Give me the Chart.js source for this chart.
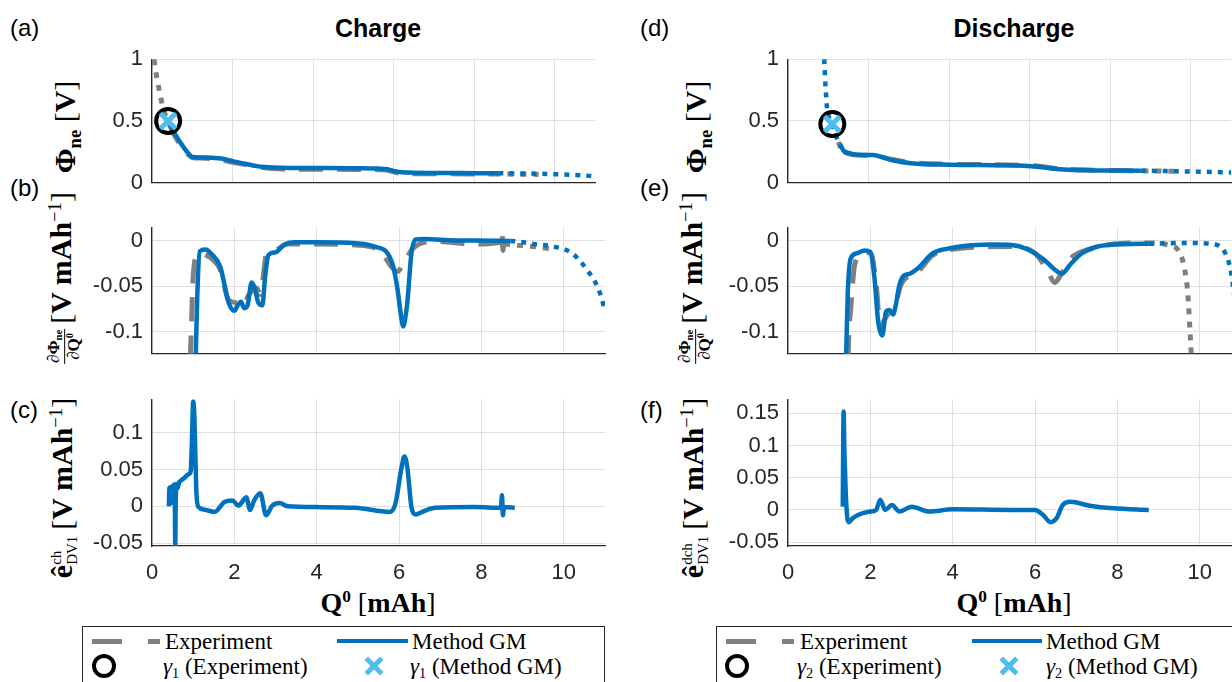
<!DOCTYPE html>
<html>
<head>
<meta charset="utf-8">
<script src="https://cdn.jsdelivr.net/npm/chart.js@4.4.1/dist/chart.umd.min.js"></script>
<style>
    html, body { margin:0; padding:0; background:#fff; }
    body { width:1232px; height:682px; overflow:hidden; position:relative; font-family:"Liberation Sans", Arial, sans-serif; color:#000; }
    canvas { position:absolute; }
    .t { position:absolute; white-space:nowrap; line-height:1; }
    .title { font-weight:bold; font-size:25px; transform:translate(-50%,-50%); }
    .panel { font-size:24px; transform:translate(0,-50%); }
    .serif { font-family:"Liberation Serif", "DejaVu Serif", serif; }
    .ylab { font-size:30px; transform:translate(-50%,-50%) rotate(-90deg); }
    .xlab { font-size:28px; transform:translate(-50%,-50%); }
    sub, sup { font-size:62%; line-height:0; position:relative; vertical-align:baseline; }
    sup { top:-0.55em; }
    sub { top:0.3em; }
    .frac { display:inline-block; vertical-align:middle; text-align:center; font-size:17px; line-height:1.05; margin-right:5px; }
    .frac span { display:block; }
    .frac .fn { border-bottom:1px solid #000; padding:0 1px 1px; }
    .stk { display:inline-block; vertical-align:middle; font-size:50%; line-height:1.05; text-align:left; margin-right:6px; }
    .stk span { display:block; }
    .lgbox { position:absolute; border:1.3px solid #262626; background:#fff; }
    .lgtxt { font-size:23px; transform:translate(0,-50%); }
    .bar { position:absolute; }
    .circ { position:absolute; width:16px; height:16px; border:4px solid #000; border-radius:50%; }
    .x1, .x2 { position:absolute; width:22px; height:5px; background:#4DBEEE; }
    .x1 { transform:translate(-50%,-50%) rotate(45deg); }
    .x2 { transform:translate(-50%,-50%) rotate(-45deg); }
</style>
</head>
<body>

<!-- titles and panel letters -->
<div class="t title" style="left:378px; top:28px;">Charge</div>
<div class="t title" style="left:1014px; top:28px;">Discharge</div>
<div class="t panel" style="left:10px; top:28px;">(a)</div>
<div class="t panel" style="left:10px; top:188px;">(b)</div>
<div class="t panel" style="left:10px; top:410px;">(c)</div>
<div class="t panel" style="left:640px; top:28px;">(d)</div>
<div class="t panel" style="left:640px; top:188px;">(e)</div>
<div class="t panel" style="left:640px; top:410px;">(f)</div>

<!-- y labels -->
<div class="t serif ylab" style="left:65px; top:127px;"><b>Φ</b><sub><b>ne</b></sub> [<b>V</b>]</div>
<div class="t serif ylab" style="left:64px; top:278px;"><span class="frac"><span class="fn">∂<b>Φ</b><sub><b>ne</b></sub></span><span>∂<b>Q</b><sup><b>0</b></sup></span></span>[<b>V mAh</b><sup>−1</sup>]</div>
<div class="t serif ylab" style="left:64px; top:488px;"><b>ê</b><span class="stk"><span>ch</span><span>DV1</span></span>[<b>V mAh</b><sup>−1</sup>]</div>
<div class="t serif ylab" style="left:696px; top:127px;"><b>Φ</b><sub><b>ne</b></sub> [<b>V</b>]</div>
<div class="t serif ylab" style="left:695px; top:278px;"><span class="frac"><span class="fn">∂<b>Φ</b><sub><b>ne</b></sub></span><span>∂<b>Q</b><sup><b>0</b></sup></span></span>[<b>V mAh</b><sup>−1</sup>]</div>
<div class="t serif ylab" style="left:695px; top:488px;"><b>ê</b><span class="stk"><span>dch</span><span>DV1</span></span>[<b>V mAh</b><sup>−1</sup>]</div>

<!-- x labels -->
<div class="t serif xlab" style="left:378px; top:603px;"><b>Q</b><sup><b>0</b></sup> [<b>mAh</b>]</div>
<div class="t serif xlab" style="left:1014px; top:603px;"><b>Q</b><sup><b>0</b></sup> [<b>mAh</b>]</div>

<!-- legends -->
<div class="lgbox" style="left:82px; top:626px; width:521px; height:80px;"></div>
<div class="bar" style="left:92px; top:639px; width:30px; height:5px; background:#808080;"></div>
<div class="bar" style="left:148px; top:639px; width:12px; height:5px; background:#808080;"></div>
<div class="t serif lgtxt" style="left:165px; top:641px;">Experiment</div>
<div class="bar" style="left:337px; top:639px; width:71px; height:4px; background:#0072BD;"></div>
<div class="t serif lgtxt" style="left:412px; top:641px;">Method GM</div>
<div class="circ" style="left:92px; top:654px;"></div>
<div class="t serif lgtxt" style="left:163px; top:666px;"><i>γ</i><sub>1</sub> (Experiment)</div>
<div class="x1" style="left:374px; top:666px;"></div><div class="x2" style="left:374px; top:666px;"></div>
<div class="t serif lgtxt" style="left:410px; top:666px;"><i>γ</i><sub>1</sub> (Method GM)</div>

<div class="lgbox" style="left:716px; top:626px; width:540px; height:80px;"></div>
<div class="bar" style="left:726px; top:639px; width:30px; height:5px; background:#808080;"></div>
<div class="bar" style="left:782px; top:639px; width:12px; height:5px; background:#808080;"></div>
<div class="t serif lgtxt" style="left:800px; top:641px;">Experiment</div>
<div class="bar" style="left:972px; top:639px; width:70px; height:4px; background:#0072BD;"></div>
<div class="t serif lgtxt" style="left:1046px; top:641px;">Method GM</div>
<div class="circ" style="left:725px; top:654px;"></div>
<div class="t serif lgtxt" style="left:797px; top:666px;"><i>γ</i><sub>2</sub> (Experiment)</div>
<div class="x1" style="left:1009px; top:666px;"></div><div class="x2" style="left:1009px; top:666px;"></div>
<div class="t serif lgtxt" style="left:1046px; top:666px;"><i>γ</i><sub>2</sub> (Method GM)</div>

<script>
// ---- data ----
const qTicks = [0, 2, 4, 6, 8, 10];
const phiTicks = [0, 0.5, 1];
const dvaTicks = [-0.1, -0.05, 0];
const chErrTicks = [-0.05, 0, 0.05, 0.1];
const dchErrTicks = [-0.05, 0, 0.05, 0.1, 0.15];

// gamma points: [charge, discharge]
const gammaQ = [0.4, 1.1];
const gammaPhi = [0.5, 0.475];

// (a) charge potential
const chPhiExpQ = [0.05, 0.08, 0.12, 0.18, 0.25, 0.32, 0.4, 0.5, 0.6, 0.7, 0.8, 0.9, 1.0, 1.2, 1.5, 1.8, 2.0, 2.3, 2.6, 3.0, 3.5, 4.0, 5.0, 5.8, 6.0, 6.2, 7.0, 8.0, 8.5, 9.0, 9.6];
const chPhiExpV = [1.0, 0.93, 0.85, 0.75, 0.64, 0.56, 0.5, 0.42, 0.36, 0.31, 0.27, 0.23, 0.205, 0.2, 0.195, 0.183, 0.165, 0.15, 0.13, 0.115, 0.11, 0.11, 0.108, 0.104, 0.088, 0.076, 0.073, 0.072, 0.072, 0.07, 0.068];
const chPhiSimQ = [0.45, 0.6, 0.8, 0.95, 1.0, 1.2, 1.5, 1.75, 2.0, 2.3, 2.6, 2.8, 3.2, 4.0, 5.0, 5.6, 5.85, 6.0, 6.2, 6.5, 7.0, 8.0, 8.6, 9.0, 9.5, 10.0, 10.5, 10.8, 11.0];
const chPhiSimV = [0.47, 0.38, 0.28, 0.22, 0.21, 0.205, 0.202, 0.195, 0.175, 0.155, 0.135, 0.128, 0.122, 0.12, 0.118, 0.115, 0.11, 0.095, 0.085, 0.082, 0.08, 0.078, 0.077, 0.076, 0.074, 0.07, 0.064, 0.058, 0.052];

// (b) charge differential voltage
const chDvaExpQ = [0.93, 0.96, 0.99, 1.03, 1.08, 1.18, 1.27, 1.45, 1.66, 1.86, 2.05, 2.24, 2.34, 2.44, 2.54, 2.63, 2.7, 2.77, 2.9, 3.0, 3.3, 3.96, 4.95, 5.53, 5.82, 5.96, 6.1, 6.35, 6.9, 7.8, 8.45, 8.5, 8.52, 8.55, 8.8, 9.3, 9.8];
const chDvaExpV = [-0.13, -0.09, -0.047, -0.025, -0.017, -0.014, -0.015, -0.02, -0.032, -0.065, -0.068, -0.071, -0.06, -0.055, -0.052, -0.059, -0.04, -0.017, -0.013, -0.011, -0.004, -0.004, -0.005, -0.011, -0.029, -0.034, -0.026, -0.008, -0.001, -0.004, -0.002, 0.01, -0.011, -0.004, -0.005, -0.007, -0.01];
const chDvaSimQ = [1.06, 1.1, 1.16, 1.3, 1.45, 1.66, 1.86, 2.0, 2.08, 2.16, 2.24, 2.32, 2.42, 2.5, 2.58, 2.68, 2.75, 2.83, 3.0, 3.2, 3.45, 3.96, 4.95, 5.43, 5.72, 5.86, 5.96, 6.05, 6.1, 6.15, 6.2, 6.3, 6.4, 6.6, 7.37, 8.7, 9.3, 9.78, 10.2, 10.56, 10.84, 11.0];
const chDvaSimV = [-0.13, -0.06, -0.012, -0.01, -0.015, -0.029, -0.068, -0.077, -0.071, -0.067, -0.074, -0.071, -0.046, -0.053, -0.068, -0.071, -0.038, -0.016, -0.013, -0.005, -0.002, -0.002, -0.003, -0.007, -0.014, -0.029, -0.053, -0.083, -0.094, -0.085, -0.068, -0.014, 0.001, 0.0015, 0, -0.0006, -0.004, -0.007, -0.014, -0.032, -0.053, -0.076];

// (c) charge error
const chErrQ = [0.41, 0.42, 0.45, 0.48, 0.5, 0.53, 0.55, 0.565, 0.575, 0.6, 0.62, 0.66, 0.7, 0.79, 0.89, 0.94, 0.97, 1.0, 1.03, 1.08, 1.13, 1.28, 1.52, 1.76, 1.95, 2.1, 2.16, 2.29, 2.38, 2.48, 2.63, 2.77, 2.92, 3.1, 3.3, 3.98, 4.95, 5.77, 5.91, 6.06, 6.13, 6.2, 6.3, 6.4, 6.59, 6.88, 7.85, 8.47, 8.5, 8.52, 8.55, 8.81];
const chErrV = [0, 0.025, 0.026, 0.005, 0.028, 0.01, 0.03, -0.054, 0.0, 0.03, 0.025, 0.033, 0.035, 0.039, 0.044, 0.048, 0.09, 0.143, 0.12, 0.017, -0.001, -0.0045, -0.0076, 0.006, 0.008, 0.001, 0.004, 0.0125, -0.005, 0.008, 0.018, -0.012, 0.001, 0.0045, 0, -0.001, -0.002, -0.0076, 0.0036, 0.053, 0.068, 0.053, -0.001, -0.011, -0.0067, -0.002, -0.001, -0.002, 0.015, -0.012, -0.001, -0.002];

// (d) discharge potential
const dchPhiExpQ = [1.25, 1.3, 1.4, 1.52, 1.71, 2.1, 2.24, 2.57, 3.05, 4.0, 5.43, 6.19, 6.76, 7.33, 8.0, 8.8, 9.3, 9.7];
const dchPhiExpV = [0.33, 0.29, 0.25, 0.235, 0.225, 0.222, 0.214, 0.19, 0.163, 0.15, 0.145, 0.135, 0.112, 0.105, 0.1, 0.097, 0.095, 0.092];
const dchPhiSimQ = [0.9, 0.93, 0.97, 1.0, 1.05, 1.1, 1.19, 1.29, 1.38, 1.52, 1.71, 2.1, 2.24, 2.57, 3.05, 4.0, 5.43, 6.19, 6.76, 7.33, 8.76, 9.5, 10.2, 10.76, 11.0];
const dchPhiSimV = [1.0, 0.79, 0.6, 0.55, 0.5, 0.467, 0.38, 0.315, 0.26, 0.24, 0.228, 0.224, 0.217, 0.185, 0.159, 0.146, 0.141, 0.13, 0.109, 0.102, 0.098, 0.094, 0.09, 0.086, 0.084];

// (e) discharge differential voltage
const dchDvaExpQ = [1.46, 1.48, 1.52, 1.62, 1.81, 2.0, 2.14, 2.24, 2.3, 2.48, 2.6, 2.76, 3.14, 3.52, 4.0, 5.43, 6.0, 6.29, 6.48, 6.62, 6.86, 7.33, 8.0, 8.76, 9.24, 9.48, 9.62, 9.71, 9.76, 9.8];
const dchDvaExpV = [-0.13, -0.1, -0.077, -0.026, -0.014, -0.0135, -0.047, -0.095, -0.09, -0.077, -0.07, -0.047, -0.035, -0.016, -0.0096, -0.0066, -0.014, -0.032, -0.046, -0.038, -0.02, -0.0096, -0.0036, -0.0027, -0.005, -0.011, -0.029, -0.059, -0.098, -0.13];
const dchDvaSimQ = [1.41, 1.45, 1.52, 1.67, 1.86, 2.0, 2.1, 2.19, 2.29, 2.38, 2.46, 2.55, 2.62, 2.7, 2.8, 2.95, 3.14, 3.52, 4.0, 4.95, 5.43, 5.81, 6.19, 6.48, 6.65, 6.86, 7.14, 7.52, 8.29, 8.76, 9.71, 10.38, 10.62, 10.76, 10.84, 10.92, 11.0];
const dchDvaSimV = [-0.13, -0.059, -0.02, -0.014, -0.011, -0.0126, -0.041, -0.089, -0.104, -0.078, -0.076, -0.081, -0.07, -0.05, -0.039, -0.0365, -0.031, -0.014, -0.008, -0.0045, -0.005, -0.0096, -0.02, -0.032, -0.0365, -0.026, -0.014, -0.0066, -0.004, -0.0036, -0.0027, -0.0045, -0.014, -0.035, -0.062, -0.09, -0.12];

// (f) discharge error
const dchErrQ = [1.33, 1.34, 1.35, 1.37, 1.4, 1.44, 1.48, 1.57, 1.71, 2.0, 2.14, 2.24, 2.36, 2.52, 2.71, 3.0, 3.43, 4.0, 5.43, 6.0, 6.19, 6.38, 6.52, 6.67, 6.86, 7.33, 7.9, 8.76];
const dchErrV = [0.005, 0.1, 0.153, 0.09, 0.03, -0.012, -0.019, -0.013, -0.0075, -0.0025, 0, 0.016, 0, 0.0075, -0.0025, 0.005, -0.0025, 0.001, 0, 0, -0.0075, -0.019, -0.013, 0.0075, 0.0126, 0.0065, 0.0025, 0];

// ---- style ----
const BLUE = '#0072BD', GRAY = '#808080', CYAN = '#4DBEEE';
const GRID = '#dfdfdf', AXIS = '#262626';
const DOT_B = [5, 6], DOT_G = [6, 7], DASH_G = [24, 14];
const TICK_FONT = { family: '"Liberation Sans", Arial, sans-serif', size: 22 };

// plot-area geometry (px)
const PW = 453, YW = 95, PR = 6, PT = 14;

function pts(xs, ys) {
    return xs.map((x, i) => ({ x: x, y: ys[i] }));
}

// one curve; style "inside" between lo and hi, "outside" elsewhere
function curve(xs, ys, color, width, lo, hi, inside, outside) {
    return {
        data: pts(xs, ys),
        borderColor: color,
        borderWidth: width,
        pointRadius: 0,
        showLine: true,
        fill: false,
        cubicInterpolationMode: 'monotone',
        borderCapStyle: 'butt',
        borderJoinStyle: 'round',
        segment: {
            borderDash: c => (c.p0.parsed.x >= lo - 1e-9 && c.p1.parsed.x <= hi + 1e-9) ? inside : outside
        }
    };
}

function markers(q, v) {
    return [
        { data: [{ x: q, y: v }], showLine: false, pointStyle: 'crossRot', pointRadius: 11,
          borderColor: CYAN, borderWidth: 5, backgroundColor: 'transparent' },
        { data: [{ x: q, y: v }], showLine: false, pointStyle: 'circle', pointRadius: 12,
          borderColor: '#000', borderWidth: 4, backgroundColor: 'transparent' }
    ];
}

function panel(left, top, h, ymin, ymax, yTicks, showX, datasets) {
    const xh = showX ? 46 : 2;
    const cv = document.createElement('canvas');
    cv.width = YW + PW + PR;
    cv.height = PT + h + xh;
    cv.style.left = (left - YW) + 'px';
    cv.style.top = (top - PT) + 'px';
    document.body.appendChild(cv);

    new Chart(cv, {
        type: 'scatter',
        data: { datasets: datasets },
        options: {
            responsive: false,
            animation: false,
            events: [],
            layout: { padding: { top: PT, right: PR, left: 0, bottom: 0 } },
            plugins: { legend: { display: false }, tooltip: { enabled: false } },
            scales: {
                x: {
                    type: 'linear', min: 0, max: 11,
                    afterBuildTicks: s => { s.ticks = qTicks.map(v => ({ value: v })); },
                    afterFit: s => { s.height = xh; },
                    grid: { color: GRID, drawTicks: false, lineWidth: 1 },
                    border: { display: true, color: AXIS, width: 1.3 },
                    ticks: { display: showX, font: TICK_FONT, color: AXIS, padding: 14, maxRotation: 0 }
                },
                y: {
                    type: 'linear', min: ymin, max: ymax,
                    afterBuildTicks: s => { s.ticks = yTicks.map(v => ({ value: v })); },
                    afterFit: s => { s.width = YW; },
                    grid: { color: GRID, drawTicks: false, lineWidth: 1 },
                    border: { display: true, color: AXIS, width: 1.3 },
                    ticks: { font: TICK_FONT, color: AXIS, padding: 9, callback: v => String(v) }
                }
            }
        }
    });
}

// ---- charge column ----
const L = 152;
panel(L, 51, 152, 0, 1, phiTicks, false, [
    ...markers(gammaQ[0], gammaPhi[0]),
    curve(chPhiSimQ, chPhiSimV, BLUE, 4.5, 0, 8.6, [], DOT_B),
    curve(chPhiExpQ, chPhiExpV, GRAY, 5, 0.4, 8.5, DASH_G, DOT_G)
]);
panel(L, 219, 155, -0.124, 0.0145, dvaTicks, false, [
    curve(chDvaSimQ, chDvaSimV, BLUE, 4.5, 0, 8.7, [], DOT_B),
    curve(chDvaExpQ, chDvaExpV, GRAY, 5, 0, 8.55, DASH_G, DOT_G)
]);
panel(L, 391, 155, -0.054, 0.146, chErrTicks, true, [
    curve(chErrQ, chErrV, BLUE, 4.5, 0, 11, [], DOT_B)
]);

// ---- discharge column ----
const R = 788;
panel(R, 51, 152, 0, 1, phiTicks, false, [
    ...markers(gammaQ[1], gammaPhi[1]),
    curve(dchPhiSimQ, dchPhiSimV, BLUE, 4.5, 1.29, 8.76, [], DOT_B),
    curve(dchPhiExpQ, dchPhiExpV, GRAY, 5, 1.4, 8.8, DASH_G, DOT_G)
]);
panel(R, 219, 155, -0.124, 0.0145, dvaTicks, false, [
    curve(dchDvaSimQ, dchDvaSimV, BLUE, 4.5, 0, 8.76, [], DOT_B),
    curve(dchDvaExpQ, dchDvaExpV, GRAY, 5, 0, 8.76, DASH_G, DOT_G)
]);
panel(R, 391, 155, -0.056, 0.172, dchErrTicks, true, [
    curve(dchErrQ, dchErrV, BLUE, 4.5, 0, 11, [], DOT_B)
]);
</script>
</body>
</html>
